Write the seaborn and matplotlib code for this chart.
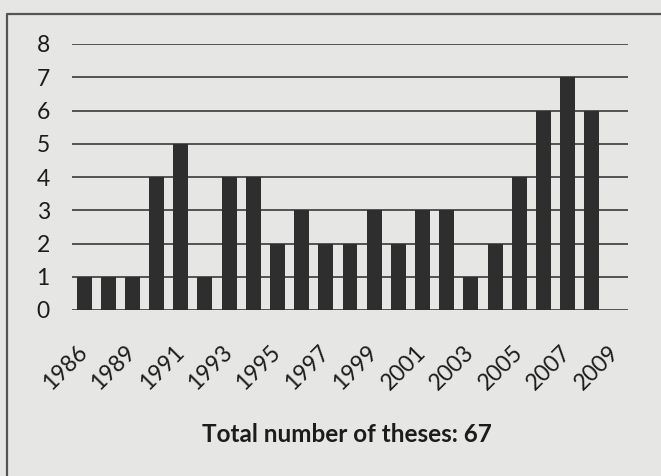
import matplotlib
matplotlib.use("Agg")
import matplotlib.pyplot as plt
from matplotlib.lines import Line2D
import seaborn as sns
import pandas as pd

# ---- data ----
years = ["1986", "1988", "1989", "1990", "1991", "1992", "1993", "1994",
         "1995", "1996", "1997", "1998", "1999", "2000", "2001", "2002",
         "2003", "2004", "2005", "2006", "2007", "2008", "2009"]
theses = [1, 1, 1, 4, 5, 1, 4, 4, 2, 3, 2, 2, 3, 2, 3, 3, 1, 2, 4, 6, 7, 6, 0]
y_ticks = [0, 1, 2, 3, 4, 5, 6, 7, 8]
title_text = "Total number of theses: 67"

df = pd.DataFrame({"year": years, "theses": theses})

# ---- style ----
paper = "#e6e6e4"
ink = "#2e2e2e"
txt = "#1c1c1c"
sns.set_theme(style="white")
plt.rcParams["font.family"] = ["Lato", "DejaVu Sans"]

W, H = 661, 476
fig = plt.figure(figsize=(W / 100, H / 100), dpi=100, facecolor=paper)
ax = fig.add_axes([72 / W, 1 - 310 / H, (628 - 72) / W, (310 - 44) / H])
ax.set_facecolor(paper)

for v in y_ticks:
    ax.axhline(v, color="#3a3a3a", lw=1.2, zorder=0)

sns.barplot(data=df, x="year", y="theses", order=years, color=ink,
            saturation=1, width=0.62, ax=ax, zorder=2,
            edgecolor=ink, linewidth=0)

ax.set_xlim(-0.5, len(years) - 0.5)
ax.set_ylim(0, 8)
ax.set_yticks(y_ticks)
ax.set_yticklabels([str(v) for v in y_ticks], fontsize=16.5, color=txt)
ax.tick_params(axis="y", length=0, pad=16)

pos = list(range(0, len(years), 2))
ax.set_xticks(pos)
ax.set_xticklabels([years[i] for i in pos], fontsize=16.5, color=txt,
                   rotation=45, ha="right", va="center", rotation_mode="anchor")
ax.tick_params(axis="x", length=0, pad=28)

for s in ax.spines.values():
    s.set_visible(False)

ax.set_ylabel("")
ax.set_xlabel(title_text, fontsize=17.5, fontweight="bold", color=txt)
ax.xaxis.set_label_coords(0.5 - 3 / (628 - 72), -(442 - 310) / (310 - 44))
ax.xaxis.label.set_va("baseline")

# outer frame of the figure box
fig.add_artist(Line2D([7 / W, 7 / W, 1], [0, 1 - 14 / H, 1 - 14 / H],
                      transform=fig.transFigure, color="#555555", lw=1.6))

fig.savefig("out.png", dpi=100, facecolor=paper)
